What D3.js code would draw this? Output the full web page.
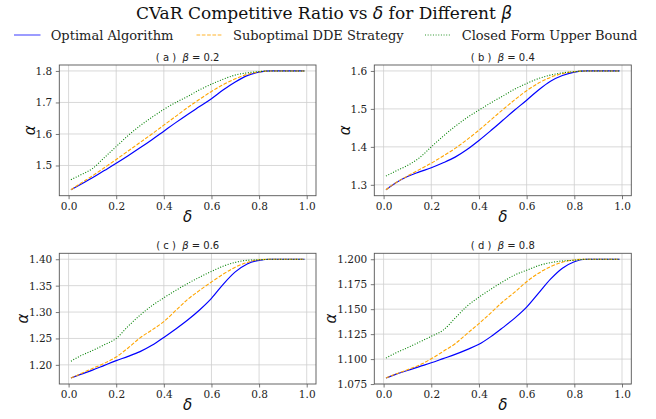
<!DOCTYPE html>
<html><head><meta charset="utf-8">
<script src="https://cdn.jsdelivr.net/npm/d3@7"></script>
<style>
body{margin:0;background:#fff;}
svg{display:block;}
</style></head>
<body>
<svg id="chart" width="656" height="419"></svg>
<script>
// ---- data ----
const deltas = [0.01,0.05,0.1,0.15,0.2,0.25,0.3,0.35,0.4,0.45,0.5,0.55,0.6,0.65,0.7,0.75,0.8,0.85,0.9,0.95,0.99];
const betas = [0.2, 0.4, 0.6, 0.8];
const panelLetters = ["a","b","c","d"];
const seriesNames = ["Optimal Algorithm","Suboptimal DDE Strategy","Closed Form Upper Bound"];
const xTicks = [0.0,0.2,0.4,0.6,0.8,1.0];

const optA = [1.423,1.440,1.461,1.484,1.507,1.531,1.556,1.582,1.609,1.636,1.662,1.687,1.712,1.740,1.765,1.785,1.796,1.800,1.800,1.800,1.800];
const subA = [1.423,1.443,1.467,1.493,1.519,1.546,1.573,1.600,1.628,1.656,1.684,1.710,1.735,1.757,1.775,1.789,1.797,1.800,1.800,1.800,1.800];
const boundA = [1.455,1.470,1.490,1.525,1.560,1.595,1.626,1.653,1.678,1.700,1.719,1.740,1.758,1.774,1.787,1.794,1.798,1.800,1.800,1.800,1.800];

const optB = [1.287,1.305,1.322,1.334,1.345,1.358,1.373,1.393,1.417,1.443,1.470,1.497,1.523,1.550,1.573,1.588,1.597,1.600,1.600,1.600,1.600];
const subB = [1.287,1.305,1.323,1.340,1.357,1.376,1.396,1.419,1.444,1.471,1.498,1.524,1.548,1.568,1.583,1.593,1.598,1.600,1.600,1.600,1.600];
const boundB = [1.323,1.336,1.351,1.371,1.400,1.428,1.454,1.477,1.497,1.516,1.534,1.552,1.567,1.580,1.589,1.595,1.598,1.600,1.600,1.600,1.600];

const optC = [1.175,1.182,1.190,1.199,1.208,1.216,1.225,1.237,1.252,1.268,1.285,1.304,1.326,1.353,1.376,1.391,1.398,1.400,1.400,1.400,1.400];
const subC = [1.175,1.183,1.193,1.203,1.215,1.232,1.251,1.266,1.282,1.303,1.324,1.341,1.357,1.372,1.385,1.394,1.399,1.400,1.400,1.400,1.400];
const boundC = [1.207,1.217,1.227,1.238,1.250,1.273,1.294,1.312,1.327,1.341,1.354,1.366,1.377,1.387,1.394,1.398,1.399,1.400,1.400,1.400,1.400];

const optD = [1.081,1.0847,1.0886,1.0925,1.0963,1.1005,1.1047,1.1095,1.1148,1.1225,1.1315,1.141,1.152,1.166,1.180,1.191,1.1975,1.200,1.200,1.200,1.200];
const subD = [1.081,1.085,1.0893,1.094,1.1003,1.1077,1.1154,1.1255,1.1356,1.1463,1.1574,1.167,1.1775,1.186,1.1926,1.197,1.1993,1.200,1.200,1.200,1.200];
const boundD = [1.101,1.106,1.1114,1.117,1.1228,1.129,1.141,1.153,1.162,1.170,1.1775,1.1842,1.189,1.1936,1.1966,1.1983,1.199,1.200,1.200,1.200,1.200];

const yTicksA = [1.5,1.6,1.7,1.8];
const yTicksB = [1.3,1.4,1.5,1.6];
const yTicksC = [1.20,1.25,1.30,1.35,1.40];
const yTicksD = [1.075,1.100,1.125,1.150,1.175,1.200];

// ---- layout / styles ----
const panels = [
  {opt:optA, sub:subA, bound:boundA, ticks:yTicksA, fmt:".1f", box:[59.3,65,316,195.7]},
  {opt:optB, sub:subB, bound:boundB, ticks:yTicksB, fmt:".1f", box:[374.3,65,631.3,195.7]},
  {opt:optC, sub:subC, bound:boundC, ticks:yTicksC, fmt:".2f", box:[59.3,253.3,316,384]},
  {opt:optD, sub:subD, bound:boundD, ticks:yTicksD, fmt:".3f", box:[374.3,253.3,631.3,384]}
];
const styles = [
  {color:"#0000ff", dash:null, width:1.2},
  {color:"#ffa500", dash:"3.7,1.6", width:1.1},
  {color:"#008000", dash:"1,1.65", width:1.1}
];
const serif = "'DejaVu Serif', serif";
const sans = "'DejaVu Sans', sans-serif";

const svg = d3.select("#chart");

svg.append("text").attr("x",324).attr("y",18.5).attr("text-anchor","middle")
  .style("font-family",serif).style("font-size","17px").attr("fill","#111")
  .call(t=>{
    t.append("tspan").text("CVaR Competitive Ratio vs ");
    t.append("tspan").style("font-family",sans).style("font-style","italic").text("δ");
    t.append("tspan").text(" for Different ");
    t.append("tspan").style("font-family",sans).style("font-style","italic").text("β");
  });

// legend
const legendPos = [[14,50.7],[196.5,233],[425,461.7]];
seriesNames.forEach((name,i)=>{
  const [lx,tx] = legendPos[i];
  const g = svg.append("g");
  g.append("line").attr("x1",lx).attr("x2",lx+26.5).attr("y1",35).attr("y2",35)
    .attr("stroke",styles[i].color).attr("stroke-width",1.4).attr("opacity",0.55)
    .attr("stroke-dasharray",styles[i].dash);
  g.append("text").attr("x",tx).attr("y",39.5).text(name)
    .style("font-family",serif).style("font-size","13px").attr("fill","#222");
});

panels.forEach((p,pi)=>{
  const [x0,y0,x1,y1] = p.box;
  const allVals = p.opt.concat(p.sub,p.bound);
  const dxr = [deltas[0], deltas[deltas.length-1]];
  const xpad = (dxr[1]-dxr[0])*0.05;
  const ext = d3.extent(allVals);
  const ypad = (ext[1]-ext[0])*0.05;
  const x = d3.scaleLinear().domain([dxr[0]-xpad, dxr[1]+xpad]).range([x0,x1]);
  const y = d3.scaleLinear().domain([ext[0]-ypad, ext[1]+ypad]).range([y1,y0]);
  const g = svg.append("g");

  // grid
  g.append("g").selectAll("line").data(xTicks).join("line")
    .attr("x1",d=>x(d)).attr("x2",d=>x(d)).attr("y1",y0).attr("y2",y1)
    .attr("stroke","#cfcfcf").attr("stroke-width",0.8);
  g.append("g").selectAll("line").data(p.ticks).join("line")
    .attr("x1",x0).attr("x2",x1).attr("y1",d=>y(d)).attr("y2",d=>y(d))
    .attr("stroke","#cfcfcf").attr("stroke-width",0.8);

  // lines
  const keys = ["opt","sub","bound"];
  keys.forEach((k,i)=>{
    const line = d3.line().x((d,j)=>x(deltas[j])).y(d=>y(d)).curve(d3.curveMonotoneX);
    g.append("path").attr("d",line(p[k])).attr("fill","none")
      .attr("stroke",styles[i].color).attr("stroke-width",styles[i].width)
      .attr("stroke-dasharray",styles[i].dash);
  });

  // axes
  const xa = g.append("g").attr("transform",`translate(0,${y1})`)
    .call(d3.axisBottom(x).tickValues(xTicks).tickFormat(d3.format(".1f")).tickSize(3.5).tickPadding(3.5));
  const ya = g.append("g").attr("transform",`translate(${x0},0)`)
    .call(d3.axisLeft(y).tickValues(p.ticks).tickFormat(d3.format(p.fmt)).tickSize(3.5).tickPadding(3.5));
  [xa,ya].forEach(a=>{
    a.attr("font-family",serif).attr("font-size",10.5);
    a.select(".domain").remove();
    a.selectAll("line").attr("stroke","#555").attr("stroke-width",0.8);
    a.selectAll("text").style("font-family",serif).style("font-size","10.5px").attr("fill","#222");
  });

  // spines
  g.append("rect").attr("x",x0).attr("y",y0).attr("width",x1-x0).attr("height",y1-y0)
    .attr("fill","none").attr("stroke","#555").attr("stroke-width",0.9);

  // subplot title
  g.append("text").attr("x",(x0+x1)/2).attr("y",y0-4).attr("text-anchor","middle")
    .style("font-family",sans).style("font-size","10px").style("white-space","pre").attr("fill","#222")
    .call(t=>{
      t.append("tspan").style("white-space","pre").text(`( ${panelLetters[pi]} )  `);
      t.append("tspan").style("font-style","italic").text("β");
      t.append("tspan").style("white-space","pre").text(` = ${betas[pi]}`);
    });

  // axis labels
  g.append("text").attr("x",(x0+x1)/2).attr("y",y1+26).attr("text-anchor","middle")
    .style("font-family",sans).style("font-style","italic").style("font-size","15px").attr("fill","#111").text("δ");
  const bb = ya.node().getBBox();
  const lx = x0 + bb.x - 1;
  g.append("text").attr("transform",`translate(${lx},${(y0+y1)/2}) rotate(-90)`).attr("text-anchor","middle")
    .style("font-family",sans).style("font-style","italic").style("font-size","15px").attr("fill","#111").text("α");
});
</script>
</body></html>
